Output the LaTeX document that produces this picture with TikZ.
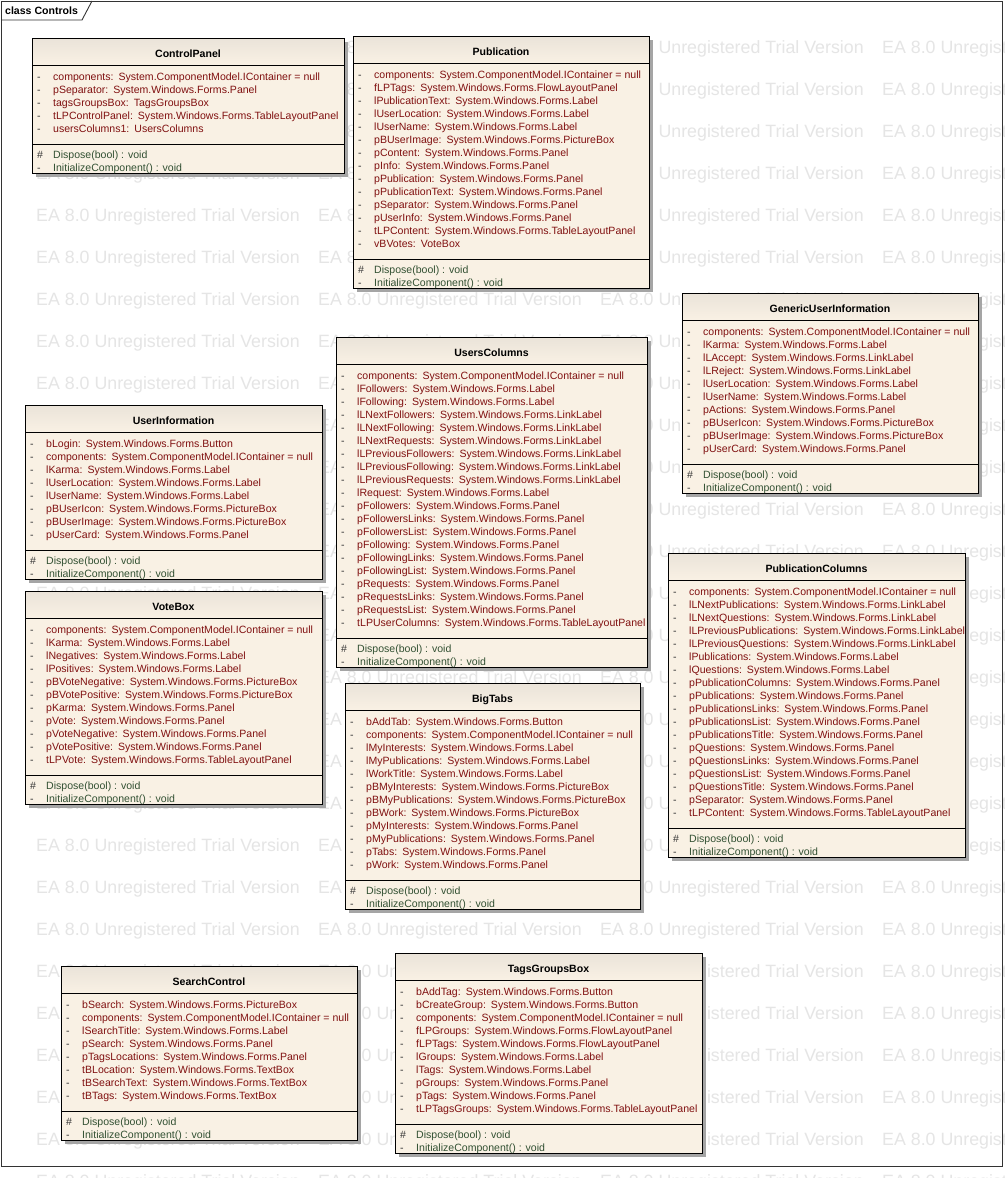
\documentclass[tikz,border=0pt]{standalone}
\usepackage{fontspec}
\setmainfont{Liberation Sans}
\usepackage{xcolor}
\usepackage{tikz}
\definecolor{umlfill}{RGB}{249,241,228}
\definecolor{umlhead}{RGB}{234,227,217}
\definecolor{umlattrcol}{RGB}{128,16,16}
\definecolor{umlmethcol}{RGB}{50,80,50}
\definecolor{umlshadowcol}{RGB}{165,165,165}
\definecolor{wmcol}{RGB}{229,229,229}
\newcommand{\umlfont}{\fontsize{10.55}{13}\selectfont}
\newcommand{\umlclass}[5]{%
  \foreach \an/\at [count=\c] in {#5} {\xdef\clsn{\c}}%
  \pgfmathsetmacro{\clsmsep}{#3+54+(\clsn-1)*13}%
  \pgfmathsetmacro{\clsbottom}{\clsmsep+29}%
  \fill[umlshadowcol] (#2+4,#3+4) rectangle (#4+4,\clsbottom+4);
  \node[umlbox, minimum width={(#4-#2)*1pt}, minimum height={(\clsbottom-#3)*1pt}] (#1) at (#2,#3) {};
  \shade[top color=umlhead, bottom color=umlfill] (#2,#3) rectangle (#4,#3+27);
  \draw[umlline] (#2,#3) rectangle (#4,\clsbottom);
  \draw[umlline] (#2,#3+27) -- (#4,#3+27);
  \draw[umlline] (#2,\clsmsep) -- (#4,\clsmsep);
  \node[umltitle] (#1-title) at ({(#2+#4)/2},#3+19) {#1};
  \foreach \an/\at [count=\i] in {#5} {
    \pgfmathsetmacro{\clsy}{#3+42+(\i-1)*13}
    \node[umlvis] (#1-v\i) at (#2+5,\clsy) {-};
    \node[umlattr] (#1-a\i) at (#2+21,\clsy) {\an:\hspace{5pt}\at};
  }
  \node[umlvis] (#1-vd) at (#2+5,\clsmsep+14) {\#};
  \node[umlmeth] (#1-dispose) at (#2+21,\clsmsep+14) {Dispose(bool) : void};
  \node[umlvis] (#1-vi) at (#2+5,\clsmsep+27) {-};
  \node[umlmeth] (#1-init) at (#2+21,\clsmsep+27) {InitializeComponent() : void};
}

\begin{document}
\begin{tikzpicture}[x=1pt, y=-1pt,
  umlbox/.style={fill=umlfill, anchor=north west, inner sep=0pt, outer sep=0pt},
  umlline/.style={draw=black, line width=0.9pt},
  umltitle/.style={anchor=base, font=\umlfont\bfseries, inner sep=0pt},
  umlvis/.style={anchor=base west, font=\umlfont, text=black!80, inner sep=0pt},
  umlattr/.style={anchor=base west, font=\umlfont, text=umlattrcol, inner sep=0pt},
  umlmeth/.style={anchor=base west, font=\umlfont, text=umlmethcol, inner sep=0pt},
  watermark/.style={anchor=base west, font=\fontsize{17.8}{20}\selectfont, text=wmcol, inner sep=0pt}]
\useasboundingbox (0,0) rectangle (1004,1178);
\fill[white] (0,0) rectangle (1004,1178);
\begin{scope}
\clip (0,0) rectangle (1004,1178);
\foreach \r in {0,...,27}
  \foreach \k in {0,...,3}
    \node[watermark] (wm-\r-\k) at (36+282*\k,53+42*\r) {EA 8.0 Unregistered Trial Version};
\end{scope}
\draw[line width=0.9pt, black!80] (1,1) rectangle (1002,1166);
\draw[line width=0.9pt, black!80] (1,20) -- (82,20) -- (92,1);
\node[anchor=base west, font=\umlfont\bfseries, inner sep=0pt] (frame-label) at (5,14) {class Controls};

\umlclass{ControlPanel}{32}{38}{344}{
  components/System.ComponentModel.IContainer = null,
  pSeparator/System.Windows.Forms.Panel,
  tagsGroupsBox/TagsGroupsBox,
  tLPControlPanel/System.Windows.Forms.TableLayoutPanel,
  usersColumns1/UsersColumns}

\umlclass{Publication}{353}{36}{649}{
  components/System.ComponentModel.IContainer = null,
  fLPTags/System.Windows.Forms.FlowLayoutPanel,
  lPublicationText/System.Windows.Forms.Label,
  lUserLocation/System.Windows.Forms.Label,
  lUserName/System.Windows.Forms.Label,
  pBUserImage/System.Windows.Forms.PictureBox,
  pContent/System.Windows.Forms.Panel,
  pInfo/System.Windows.Forms.Panel,
  pPublication/System.Windows.Forms.Panel,
  pPublicationText/System.Windows.Forms.Panel,
  pSeparator/System.Windows.Forms.Panel,
  pUserInfo/System.Windows.Forms.Panel,
  tLPContent/System.Windows.Forms.TableLayoutPanel,
  vBVotes/VoteBox}

\umlclass{GenericUserInformation}{682}{293}{978}{
  components/System.ComponentModel.IContainer = null,
  lKarma/System.Windows.Forms.Label,
  lLAccept/System.Windows.Forms.LinkLabel,
  lLReject/System.Windows.Forms.LinkLabel,
  lUserLocation/System.Windows.Forms.Label,
  lUserName/System.Windows.Forms.Label,
  pActions/System.Windows.Forms.Panel,
  pBUserIcon/System.Windows.Forms.PictureBox,
  pBUserImage/System.Windows.Forms.PictureBox,
  pUserCard/System.Windows.Forms.Panel}

\umlclass{UserInformation}{25}{405}{322}{
  bLogin/System.Windows.Forms.Button,
  components/System.ComponentModel.IContainer = null,
  lKarma/System.Windows.Forms.Label,
  lUserLocation/System.Windows.Forms.Label,
  lUserName/System.Windows.Forms.Label,
  pBUserIcon/System.Windows.Forms.PictureBox,
  pBUserImage/System.Windows.Forms.PictureBox,
  pUserCard/System.Windows.Forms.Panel}

\umlclass{VoteBox}{25}{591}{322}{
  components/System.ComponentModel.IContainer = null,
  lKarma/System.Windows.Forms.Label,
  lNegatives/System.Windows.Forms.Label,
  lPositives/System.Windows.Forms.Label,
  pBVoteNegative/System.Windows.Forms.PictureBox,
  pBVotePositive/System.Windows.Forms.PictureBox,
  pKarma/System.Windows.Forms.Panel,
  pVote/System.Windows.Forms.Panel,
  pVoteNegative/System.Windows.Forms.Panel,
  pVotePositive/System.Windows.Forms.Panel,
  tLPVote/System.Windows.Forms.TableLayoutPanel}

\umlclass{UsersColumns}{336}{337}{647}{
  components/System.ComponentModel.IContainer = null,
  lFollowers/System.Windows.Forms.Label,
  lFollowing/System.Windows.Forms.Label,
  lLNextFollowers/System.Windows.Forms.LinkLabel,
  lLNextFollowing/System.Windows.Forms.LinkLabel,
  lLNextRequests/System.Windows.Forms.LinkLabel,
  lLPreviousFollowers/System.Windows.Forms.LinkLabel,
  lLPreviousFollowing/System.Windows.Forms.LinkLabel,
  lLPreviousRequests/System.Windows.Forms.LinkLabel,
  lRequest/System.Windows.Forms.Label,
  pFollowers/System.Windows.Forms.Panel,
  pFollowersLinks/System.Windows.Forms.Panel,
  pFollowersList/System.Windows.Forms.Panel,
  pFollowing/System.Windows.Forms.Panel,
  pFollowingLinks/System.Windows.Forms.Panel,
  pFollowingList/System.Windows.Forms.Panel,
  pRequests/System.Windows.Forms.Panel,
  pRequestsLinks/System.Windows.Forms.Panel,
  pRequestsList/System.Windows.Forms.Panel,
  tLPUserColumns/System.Windows.Forms.TableLayoutPanel}

\umlclass{BigTabs}{345}{683}{640}{
  bAddTab/System.Windows.Forms.Button,
  components/System.ComponentModel.IContainer = null,
  lMyInterests/System.Windows.Forms.Label,
  lMyPublications/System.Windows.Forms.Label,
  lWorkTitle/System.Windows.Forms.Label,
  pBMyInterests/System.Windows.Forms.PictureBox,
  pBMyPublications/System.Windows.Forms.PictureBox,
  pBWork/System.Windows.Forms.PictureBox,
  pMyInterests/System.Windows.Forms.Panel,
  pMyPublications/System.Windows.Forms.Panel,
  pTabs/System.Windows.Forms.Panel,
  pWork/System.Windows.Forms.Panel}

\umlclass{PublicationColumns}{668}{553}{965}{
  components/System.ComponentModel.IContainer = null,
  lLNextPublications/System.Windows.Forms.LinkLabel,
  lLNextQuestions/System.Windows.Forms.LinkLabel,
  lLPreviousPublications/System.Windows.Forms.LinkLabel,
  lLPreviousQuestions/System.Windows.Forms.LinkLabel,
  lPublications/System.Windows.Forms.Label,
  lQuestions/System.Windows.Forms.Label,
  pPublicationColumns/System.Windows.Forms.Panel,
  pPublications/System.Windows.Forms.Panel,
  pPublicationsLinks/System.Windows.Forms.Panel,
  pPublicationsList/System.Windows.Forms.Panel,
  pPublicationsTitle/System.Windows.Forms.Panel,
  pQuestions/System.Windows.Forms.Panel,
  pQuestionsLinks/System.Windows.Forms.Panel,
  pQuestionsList/System.Windows.Forms.Panel,
  pQuestionsTitle/System.Windows.Forms.Panel,
  pSeparator/System.Windows.Forms.Panel,
  tLPContent/System.Windows.Forms.TableLayoutPanel}

\umlclass{SearchControl}{61}{966}{357}{
  bSearch/System.Windows.Forms.PictureBox,
  components/System.ComponentModel.IContainer = null,
  lSearchTitle/System.Windows.Forms.Label,
  pSearch/System.Windows.Forms.Panel,
  pTagsLocations/System.Windows.Forms.Panel,
  tBLocation/System.Windows.Forms.TextBox,
  tBSearchText/System.Windows.Forms.TextBox,
  tBTags/System.Windows.Forms.TextBox}

\umlclass{TagsGroupsBox}{395}{953}{702}{
  bAddTag/System.Windows.Forms.Button,
  bCreateGroup/System.Windows.Forms.Button,
  components/System.ComponentModel.IContainer = null,
  fLPGroups/System.Windows.Forms.FlowLayoutPanel,
  fLPTags/System.Windows.Forms.FlowLayoutPanel,
  lGroups/System.Windows.Forms.Label,
  lTags/System.Windows.Forms.Label,
  pGroups/System.Windows.Forms.Panel,
  pTags/System.Windows.Forms.Panel,
  tLPTagsGroups/System.Windows.Forms.TableLayoutPanel}
\end{tikzpicture}
\end{document}
